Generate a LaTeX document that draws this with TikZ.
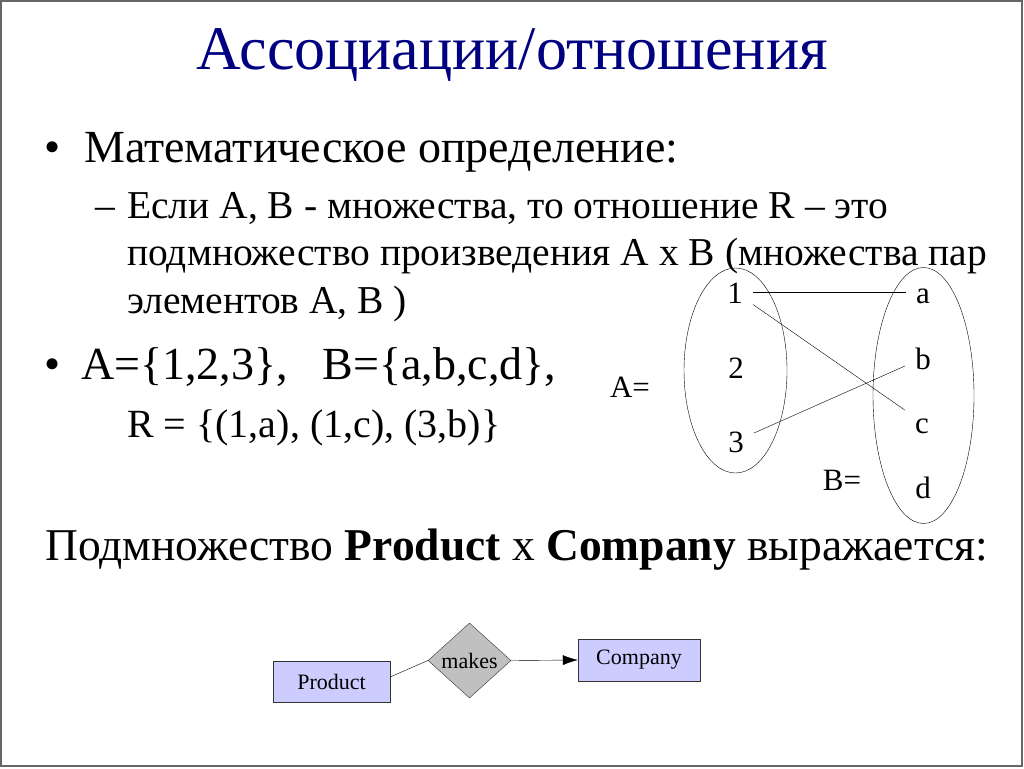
\documentclass[tikz,border=0pt]{standalone}
\usepackage{fontspec}
\setmainfont{Liberation Serif}
\usetikzlibrary{shapes.geometric,arrows.meta}
\definecolor{titleblue}{RGB}{0,0,128}
\definecolor{entityfill}{RGB}{204,204,255}
\definecolor{relfill}{RGB}{192,192,192}
\newcommand{\fsz}[1]{\fontsize{#1}{#1}\selectfont}

\begin{document}
\begin{tikzpicture}[x=1pt,y=-1pt,
    txt/.style={anchor=base west,inner sep=0pt},
    el/.style={font=\fsz{31},inner sep=10pt,text height=22pt,text depth=0pt},
    entity/.style={draw=black!80,fill=entityfill,font=\fsz{22},minimum height=41pt,inner sep=0pt}]
\useasboundingbox (0,0) rectangle (1024,768);
\draw[black!60,line width=1.5pt] (1,1) rectangle (1022,766);
% title
\node[anchor=base,inner sep=0pt,text=titleblue,font=\fsz{62}] (title) at (512,69) {Ассоциации/отношения};
% text
\node[txt,font=\fsz{46}] (b1) at (44,162) {•};
\node[txt,font=\fsz{46}] (t1) at (84,162) {Математическое определение:};
\node[txt,font=\fsz{39.5}] (d1) at (95,218) {–};
\node[txt,font=\fsz{39.5}] (t2) at (127,218) {Если A, B - множества, то отношение R – это};
\node[txt,font=\fsz{39.5}] (t3) at (127,265) {подмножество произведения A x B (множества пар};
\node[txt,font=\fsz{39.5}] (t4) at (127,313) {элементов A, B )};
\node[txt,font=\fsz{46}] (b2) at (44,379) {•};
\node[txt,font=\fsz{46}] (t5) at (81,379) {A=\{1,2,3\},\ \ \ B=\{a,b,c,d\},};
\node[txt,font=\fsz{40}] (t6) at (127,437) {R = \{(1,a), (1,c), (3,b)\}};
\node[txt,font=\fsz{45.5}] (t7) at (45,560) {Подмножество \textbf{Product} x \textbf{Company} выражается:};
% sets
\node[draw,ellipse,minimum width=103pt,minimum height=205pt,inner sep=0pt] (setA) at (735.5,370.5) {};
\node[draw,ellipse,minimum width=101pt,minimum height=256pt,inner sep=0pt] (setB) at (923.5,395.5) {};
\node[anchor=base,inner sep=0pt,font=\fsz{31}] (labA) at (630,397) {A=};
\node[anchor=base,inner sep=0pt,font=\fsz{31}] (labB) at (842,490) {B=};
\node[el] (1) at (735,292) {1};
\node[el] (2) at (736,367) {2};
\node[el] (3) at (736,441) {3};
\node[el] (a) at (923,292) {a};
\node[el] (b) at (923,358) {b};
\node[el] (c) at (922,422) {c};
\node[el] (d) at (923,487) {d};
\path[] (1) edge (a) (1) edge (c) (3) edge (b);
% er diagram
\node[entity,minimum width=117pt] (product) at (331.5,681.5) {Product};
\node[draw=black!80,fill=relfill,diamond,aspect=1.1,minimum width=83pt,minimum height=75pt,inner sep=0pt,font=\fsz{22}] (makes) at (469.5,660.5) {makes};
\node[entity,minimum width=122pt,minimum height=42pt] (company) at (639,660) {Company};
\draw ([yshift=4.5pt]product.east) -- (makes.west);
\draw[-{Latex[length=15pt,width=10pt]}] (makes.east) -- (company.west);
\end{tikzpicture}
\end{document}
